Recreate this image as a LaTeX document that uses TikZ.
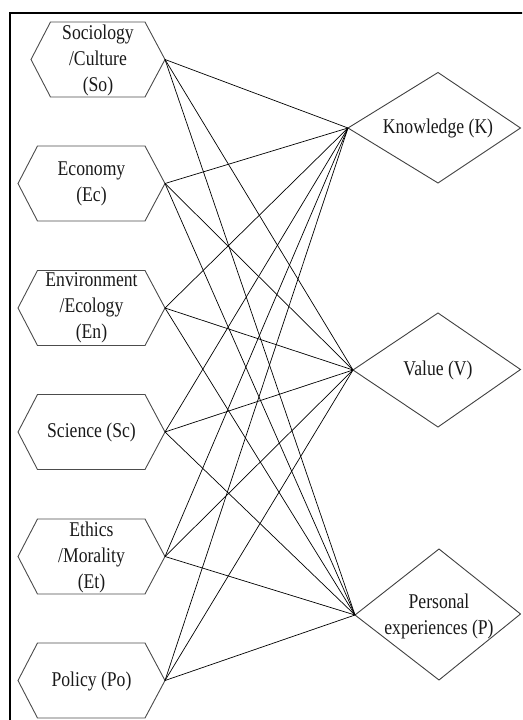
\documentclass[tikz,border=0pt]{standalone}
\usepackage{fontspec}
\setmainfont[FakeStretch=0.84]{Liberation Serif}
\begin{document}
\begin{tikzpicture}[x=1pt,y=-1pt,
  hexshape/.style={draw=black!70,line width=0.9pt,line join=miter},
  diashape/.style={draw=black!75,line width=0.9pt},
  lbl/.style={align=center,inner sep=0pt,font=\fontsize{21}{26}\selectfont,text=black!90},
  conn/.style={draw=black,line width=0.7pt}]
\useasboundingbox (0,0) rectangle (522,720);
\clip (0,0) rectangle (522,720);
% frame
\draw[line width=1.6pt] (9.8,725) -- (9.8,12.8) -- (530,12.8);
% hexagons
\foreach \n/\c/\L in {So/59.5/31,Ec/183.5/18,En/308/18,Sc/432/18,Et/556.5/18,Po/680.5/18}{
  \draw[hexshape] (\L,\c) -- (\L+19.5,\c-37.5) -- (145,\c-37.5) -- (165,\c) -- (145,\c+37.5) -- (\L+19.5,\c+37.5) -- cycle;
  \coordinate (\n) at (165,\c);
}
\node[lbl] (soT) at (98,60) {Sociology\\/Culture\\(So)};
\node[lbl] (ecT) at (91.5,184) {Economy\\(Ec)};
\node[lbl] (enT) at (91.5,308) {Environment\\/Ecology\\(En)};
\node[lbl] (scT) at (91.5,432) {Science (Sc)};
\node[lbl] (etT) at (91.5,557) {Ethics\\/Morality\\(Et)};
\node[lbl] (poT) at (91.5,681) {Policy (Po)};
% diamonds
\draw[diashape] (348,128) -- (438,72.5) -- (520.5,128) -- (438,183) -- cycle;
\coordinate (K) at (348,128);
\draw[diashape] (353,370) -- (438,313) -- (520.5,369.5) -- (438,427) -- cycle;
\coordinate (V) at (353,370);
\draw[diashape] (355,615) -- (439,549) -- (520.5,614) -- (439,680) -- cycle;
\coordinate (P) at (355,615);
\node[lbl] (kT) at (438,128) {Knowledge (K)};
\node[lbl] (vT) at (438,370) {Value (V)};
\node[lbl] (pT) at (439,616) {Personal\\experiences (P)};
% connectors
\foreach \s in {So,Ec,En,Sc,Et,Po}{
  \foreach \t in {K,V,P}{
    \draw[conn] (\s) -- (\t);
  }
}
\end{tikzpicture}
\end{document}
